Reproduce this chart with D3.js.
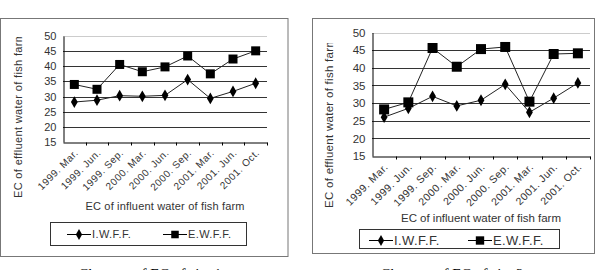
<!DOCTYPE html>
<html>
<head>
<meta charset="utf-8">
<script src="https://cdn.jsdelivr.net/npm/d3@7"></script>
<style>
  body { margin: 0; background: #fff; }
  text { font-family: "Liberation Sans", Arial, sans-serif; }
</style>
</head>
<body>
<div id="chart"></div>
<script>
var svgWidth = 604;
var svgHeight = 270;

// data
var categories = ["1999. Mar.", "1999. Jun.", "1999. Sep.", "2000. Mar.", "2000. Jun.",
  "2000. Sep.", "2001. Mar.", "2001. Jun.", "2001. Oct."];
var seriesNames = ["I.W.F.F.", "E.W.F.F."];
var site1Iwff = [28.2, 28.8, 30.3, 30.1, 30.4, 35.6, 29.4, 31.7, 34.4];
var site1Ewff = [34.0, 32.4, 40.6, 38.2, 39.8, 43.4, 37.5, 42.4, 45.1];
var site2Iwff = [26.0, 28.5, 31.9, 29.2, 30.8, 35.3, 27.4, 31.4, 35.7];
var site2Ewff = [28.2, 30.2, 45.6, 40.3, 45.3, 45.9, 30.4, 43.9, 44.1];
var yTicks = [15, 20, 25, 30, 35, 40, 45, 50];
var yTitle = "EC of effluent water of fish farm";
var xTitle = "EC of influent water of fish farm";
var captions = ["Changes of EC of site 1", "Changes of EC of site 2"];

var svg = d3.select("#chart")
  .append("svg")
  .attr("width", svgWidth)
  .attr("height", svgHeight);

// layout per panel
var panels = [
  { iw: site1Iwff, ew: site1Ewff, caption: captions[0],
    frame: [0.5, 18.5, 288, 256.5], plot: [63, 36, 267, 142],
    yLab: { x: 22, y: 198, clip: 37, size: 11, len: 165 }, tickSize: 11, xTickSize: 10,
    xTitle: { x: 165, y: 210, size: 11, len: 159 },
    legend: { box: [50.5, 222.5, 246.5, 245.5], y: 234, items: [67, 163], lineLen: 24, size: 11, sq: 9 },
    captionX: 150 },
  { iw: site2Iwff, ew: site2Ewff, caption: captions[1],
    frame: [312.5, 18.5, 594.5, 253.5], plot: [372, 32.5, 590, 156],
    yLab: { x: 333, y: 208, clip: 43, size: 11.5, len: 170 }, tickSize: 11.5, xTickSize: 10.5,
    xTitle: { x: 481, y: 222, size: 11.5, len: 160 },
    legend: { box: [359.5, 229.5, 559.5, 248.5], y: 240, items: [369, 468], lineLen: 24, size: 13, sq: 10 },
    captionX: 452 }
];

panels.forEach(function(p, pi) {
  var g = svg.append("g");

  // outer frame
  g.append("rect")
    .attr("x", p.frame[0]).attr("y", p.frame[1])
    .attr("width", p.frame[2] - p.frame[0])
    .attr("height", p.frame[3] - p.frame[1])
    .attr("fill", "none")
    .attr("stroke", "#777")
    .attr("stroke-width", 1);

  var x = d3.scaleBand()
    .domain(categories)
    .range([p.plot[0], p.plot[2]]);

  var y = d3.scaleLinear()
    .domain([15, 50])
    .range([p.plot[3], p.plot[1]]);

  // gridlines
  g.selectAll(".grid")
    .data(yTicks.filter(d => d > 15))
    .enter()
    .append("line")
    .attr("x1", p.plot[0]).attr("x2", p.plot[2])
    .attr("y1", d => Math.round(y(d)) + 0.5)
    .attr("y2", d => Math.round(y(d)) + 0.5)
    .attr("stroke", d => d === 50 ? "#ccc" : "#333")
    .attr("stroke-width", d => (d === 50 ? 1 : 1.2));

  // y axis
  var leftAxis = d3.axisLeft(y).tickValues(yTicks).tickSize(0).tickPadding(7);
  var yAxis = g.append("g")
    .attr("transform", `translate(${p.plot[0] + 0.5}, 0)`)
    .call(leftAxis);
  yAxis.select(".domain").attr("stroke", "#000");
  yAxis.selectAll("text")
    .attr("font-size", p.tickSize)
    .attr("fill", "#333")
    .style("font-family", "'Liberation Sans', Arial, sans-serif");

  // x axis
  var bottomAxis = d3.axisBottom(x).tickSize(0).tickFormat("");
  var xAxis = g.append("g")
    .attr("transform", `translate(0, ${Math.round(p.plot[3]) + 0.5})`)
    .call(bottomAxis);
  xAxis.select(".domain").attr("stroke", "#000");

  var edges = categories.map((c, i) => x(c)).concat([p.plot[2]]);
  g.selectAll(".xtick")
    .data(edges.slice(1))
    .enter()
    .append("line")
    .attr("x1", d => Math.round(d) + 0.5).attr("x2", d => Math.round(d) + 0.5)
    .attr("y1", Math.round(p.plot[3]) + 0.5)
    .attr("y2", Math.round(p.plot[3]) + 3.5)
    .attr("stroke", "#000");

  g.selectAll(".xlab")
    .data(categories)
    .enter()
    .append("text")
    .attr("transform", d => `translate(${x(d) + x.bandwidth() / 2 + 2}, ${p.plot[3] + 9}) rotate(-45)`)
    .attr("text-anchor", "end")
    .attr("dy", "0.35em")
    .attr("font-size", p.xTickSize)
    .attr("letter-spacing", 0.5)
    .attr("fill", "#333")
    .text(d => d);

  // axis titles (y title is cut at the top like in the original)
  g.append("clipPath")
    .attr("id", "yclip" + pi)
    .append("rect")
    .attr("x", p.yLab.x - 20).attr("y", p.yLab.clip)
    .attr("width", 30).attr("height", 250);

  g.append("g")
    .attr("clip-path", `url(#yclip${pi})`)
    .append("text")
    .attr("transform", `translate(${p.yLab.x}, ${p.yLab.y}) rotate(-90)`)
    .attr("font-size", p.yLab.size)
    .attr("textLength", p.yLab.len)
    .attr("lengthAdjust", "spacing")
    .attr("fill", "#333")
    .text(yTitle);

  g.append("text")
    .attr("x", p.xTitle.x - p.xTitle.len / 2).attr("y", p.xTitle.y)
    .attr("font-size", p.xTitle.size)
    .attr("textLength", p.xTitle.len)
    .attr("lengthAdjust", "spacing")
    .attr("fill", "#333")
    .text(xTitle);

  // series
  var cx = d => x(d) + x.bandwidth() / 2;
  var line = d3.line()
    .x((d, i) => cx(categories[i]))
    .y(d => y(d));

  [p.iw, p.ew].forEach(function(vals, si) {
    g.append("path")
      .datum(vals)
      .attr("d", line)
      .attr("fill", "none")
      .attr("stroke", "#222")
      .attr("stroke-width", 1);

    var sym = si === 0
      ? d3.symbol().type(d3.symbolDiamond).size(40)
      : d3.symbol().type(d3.symbolSquare).size(p.legend.sq * p.legend.sq);

    g.selectAll(".pt" + si)
      .data(vals)
      .enter()
      .append("path")
      .attr("d", sym)
      .attr("transform", (d, i) => `translate(${cx(categories[i])}, ${y(d)})`)
      .attr("fill", "#000");
  });

  // legend
  g.append("rect")
    .attr("x", p.legend.box[0]).attr("y", p.legend.box[1])
    .attr("width", p.legend.box[2] - p.legend.box[0])
    .attr("height", p.legend.box[3] - p.legend.box[1])
    .attr("fill", "#fff")
    .attr("stroke", "#333");

  seriesNames.forEach(function(name, si) {
    var lx = p.legend.items[si];
    var ly = p.legend.y;
    g.append("line")
      .attr("x1", lx).attr("x2", lx + p.legend.lineLen)
      .attr("y1", ly + 0.5).attr("y2", ly + 0.5)
      .attr("stroke", "#000");
    var sym = si === 0
      ? d3.symbol().type(d3.symbolDiamond).size(34)
      : d3.symbol().type(d3.symbolSquare).size(p.legend.sq * p.legend.sq * 0.7);
    g.append("path")
      .attr("d", sym)
      .attr("transform", `translate(${lx + p.legend.lineLen / 2}, ${ly + 0.5})`)
      .attr("fill", "#000");
    g.append("text")
      .attr("x", lx + p.legend.lineLen + 1)
      .attr("y", ly)
      .attr("dy", "0.36em")
      .attr("font-size", p.legend.size)
      .attr("letter-spacing", 0.4)
      .attr("fill", "#333")
      .text(name);
  });

  // caption below the frame (cut by the page edge, as in the original)
  g.append("text")
    .attr("x", p.captionX)
    .attr("y", 279)
    .attr("text-anchor", "middle")
    .attr("font-size", 15)
    .style("font-family", "'Liberation Serif', 'Times New Roman', serif")
    .attr("fill", "#000")
    .text(p.caption);
});
</script>
</body>
</html>
